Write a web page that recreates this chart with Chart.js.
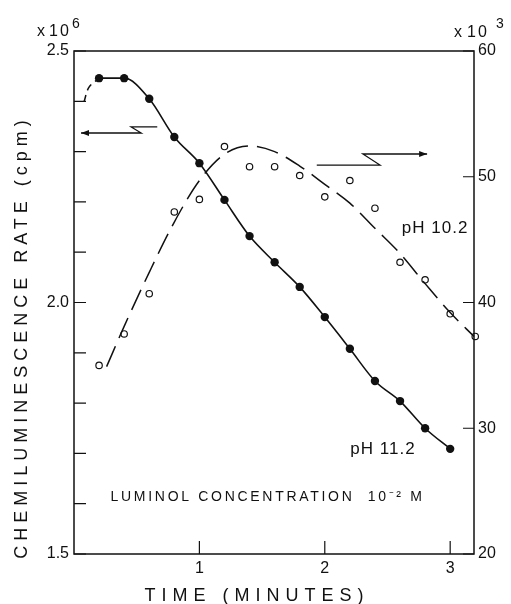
<!DOCTYPE html>
<html><head><meta charset="utf-8">
<script src="https://cdn.jsdelivr.net/npm/chart.js@4/dist/chart.umd.min.js"></script>
<style>html,body{margin:0;padding:0;background:#fff;}canvas{display:block;}</style>
</head><body>
<canvas id="c" width="511" height="604"></canvas>
<script>
// pH 11.2 (left axis, x10^6 cpm)
const timeMinutes112 = [0.2,0.4,0.6,0.8,1.0,1.2,1.4,1.6,1.8,2.0,2.2,2.4,2.6,2.8,3.0];
const ph112Rate = [2.446,2.446,2.405,2.329,2.277,2.204,2.132,2.080,2.031,1.971,1.908,1.844,1.804,1.750,1.709];
const ph112LeadTime = [0.08,0.12,0.2];
const ph112LeadRate = [2.399,2.428,2.446];
// pH 10.2 (right axis, x10^3 cpm)
const timeMinutes102 = [0.2,0.4,0.6,0.8,1.0,1.2,1.4,1.6,1.8,2.0,2.2,2.4,2.6,2.8,3.0,3.2];
const ph102Rate = [35.0,37.5,40.7,47.2,48.2,52.4,50.8,50.8,50.1,48.4,49.7,47.5,43.2,41.8,39.1,37.3];
const ph102FitTime = [0.26,0.4,0.6,0.8,1.0,1.2,1.4,1.6,1.8,2.0,2.2,2.4,2.6,2.8,3.0,3.19];
const ph102FitRate = [34.9,38.1,42.4,46.4,49.7,51.8,52.45,52.0,50.85,49.4,47.9,45.9,43.9,41.5,39.2,37.3];
// ticks
const xTickValues = [1,2,3];
const xTickLabels = ['1','2','3'];
const leftTickValues = [1.5,1.6,1.7,1.8,1.9,2.0,2.1,2.2,2.3,2.4,2.5];
const leftTickLabels = ['1.5','','','','','2.0','','','','','2.5'];
const rightTickValues = [20,30,40,50,60];
const rightTickLabels = ['20','30','40','50','60'];
// annotation arrows (data coordinates)
const arrowLeftTime = [0.664,0.456,0.536,0.056];
const arrowLeftRate = [2.349,2.349,2.337,2.337];
const arrowRightTime = [1.936,2.44,2.304,2.816];
const arrowRightRate = [50.93,50.93,51.81,51.81];

const FONT = '"Liberation Sans", Arial, sans-serif';
const INK = '#111';

const pts = (xs, ys) => xs.map((x,i)=>({x:x,y:ys[i]}));

const decor = {
  id:'decor',
  afterDraw(chart){
    const ctx = chart.ctx, a = chart.chartArea;
    const sx = chart.scales.x, sl = chart.scales.yL, sr = chart.scales.yR;
    ctx.save();
    ctx.strokeStyle = INK; ctx.fillStyle = INK;
    ctx.lineWidth = 1.5;
    ctx.strokeRect(a.left, a.top, a.right - a.left, a.bottom - a.top);
    ctx.lineWidth = 1.2;
    ctx.beginPath();
    leftTickValues.forEach(v=>{const y = sl.getPixelForValue(v); ctx.moveTo(a.left, y); ctx.lineTo(a.left+12, y);});
    rightTickValues.forEach(v=>{const y = sr.getPixelForValue(v); ctx.moveTo(a.right, y); ctx.lineTo(a.right-11, y);});
    xTickValues.forEach(v=>{const x = sx.getPixelForValue(v); ctx.moveTo(x, a.bottom); ctx.lineTo(x, a.bottom-13);});
    ctx.stroke();
    // arrows
    function arrow(xs, ys, sy, dir){
      ctx.beginPath();
      xs.forEach((t,i)=>{const px = sx.getPixelForValue(t), py = sy.getPixelForValue(ys[i]); if(i===0) ctx.moveTo(px,py); else ctx.lineTo(px,py);});
      ctx.stroke();
      const tx = sx.getPixelForValue(xs[xs.length-1]), ty = sy.getPixelForValue(ys[ys.length-1]);
      ctx.beginPath();
      ctx.moveTo(tx, ty); ctx.lineTo(tx - dir*8, ty - 3); ctx.lineTo(tx - dir*8, ty + 3); ctx.closePath();
      ctx.fill();
    }
    ctx.lineWidth = 1.3;
    arrow(arrowLeftTime, arrowLeftRate, sl, -1);
    arrow(arrowRightTime, arrowRightRate, sr, 1);
    // multiplier labels
    ctx.textBaseline = 'alphabetic';
    ctx.textAlign = 'left';
    ctx.font = '16px ' + FONT;
    ctx.letterSpacing = '1px';
    ctx.fillText('x', 37, 36);
    ctx.fillText('x', 454, 37);
    ctx.letterSpacing = '2px';
    ctx.fillText('10', 49, 36);
    ctx.fillText('10', 467, 37);
    ctx.letterSpacing = '0px';
    ctx.font = '14px ' + FONT;
    ctx.fillText('6', 72, 28);
    ctx.fillText('3', 496, 28);
    // annotations
    ctx.textAlign = 'center';
    ctx.textBaseline = 'middle';
    ctx.letterSpacing = '1px';
    ctx.font = '17px ' + FONT;
    ctx.fillText('pH 10.2', sx.getPixelForValue(2.88), sl.getPixelForValue(2.148));
    ctx.fillText('pH 11.2', sx.getPixelForValue(2.464), sl.getPixelForValue(1.709));
    ctx.letterSpacing = '2.7px';
    ctx.font = '14px ' + FONT;
    ctx.fillText('LUMINOL CONCENTRATION  10⁻² M', sx.getPixelForValue(1.544), sl.getPixelForValue(1.613));
    // axis titles
    ctx.letterSpacing = '6px';
    ctx.font = '18px ' + FONT;
    ctx.fillText('TIME (MINUTES)', 257, 596);
    ctx.save();
    ctx.translate(22, 337);
    ctx.rotate(-Math.PI/2);
    ctx.letterSpacing = '5px';
    ctx.fillText('CHEMILUMINESCENCE RATE (cpm)', 0, 0);
    ctx.restore();
    ctx.restore();
  }
};

new Chart(document.getElementById('c'), {
  type:'line',
  data:{datasets:[
    {data:pts(timeMinutes112, ph112Rate), yAxisID:'yL', borderColor:INK, borderWidth:1.6, cubicInterpolationMode:'monotone',
     pointRadius:4.2, pointBackgroundColor:INK, pointBorderColor:INK, pointBorderWidth:0},
    {data:pts(ph112LeadTime, ph112LeadRate), yAxisID:'yL', borderColor:INK, borderWidth:1.5, tension:0.4,
     borderDash:[7,5], pointRadius:0},
    {data:pts(ph102FitTime, ph102FitRate), yAxisID:'yR', borderColor:INK, borderWidth:1.5, cubicInterpolationMode:'monotone',
     borderDash:[22,9], pointRadius:0},
    {data:pts(timeMinutes102, ph102Rate), yAxisID:'yR', showLine:false,
     pointRadius:3.2, pointBackgroundColor:'rgba(0,0,0,0)', pointBorderColor:INK, pointBorderWidth:1.2}
  ]},
  options:{
    responsive:false, animation:false, clip:false,
    layout:{padding:{top:51,left:0,right:0,bottom:0}},
    plugins:{legend:{display:false}, tooltip:{enabled:false}},
    scales:{
      x:{type:'linear', position:'bottom', min:0, max:3.19,
         grid:{display:false, drawTicks:false}, border:{display:false},
         afterBuildTicks:s=>{s.ticks = xTickValues.map(v=>({value:v}));},
         afterFit:s=>{s.height = 50;},
         ticks:{autoSkip:false, maxRotation:0, padding:5, color:INK, font:{family:FONT, size:16},
                callback:(v,i)=>xTickLabels[i]}},
      yL:{type:'linear', position:'left', min:1.5, max:2.5,
         grid:{display:false, drawTicks:false}, border:{display:false},
         afterBuildTicks:s=>{s.ticks = leftTickValues.map(v=>({value:v}));},
         afterFit:s=>{s.width = 74;},
         ticks:{autoSkip:false, padding:5, color:INK, font:{family:FONT, size:16},
                callback:(v,i)=>leftTickLabels[i]}},
      yR:{type:'linear', position:'right', min:20, max:60,
         grid:{display:false, drawTicks:false}, border:{display:false},
         afterBuildTicks:s=>{s.ticks = rightTickValues.map(v=>({value:v}));},
         afterFit:s=>{s.width = 37;},
         ticks:{autoSkip:false, padding:4, color:INK, font:{family:FONT, size:16},
                callback:(v,i)=>rightTickLabels[i]}}
    }
  },
  plugins:[decor]
});
</script>
</body></html>
